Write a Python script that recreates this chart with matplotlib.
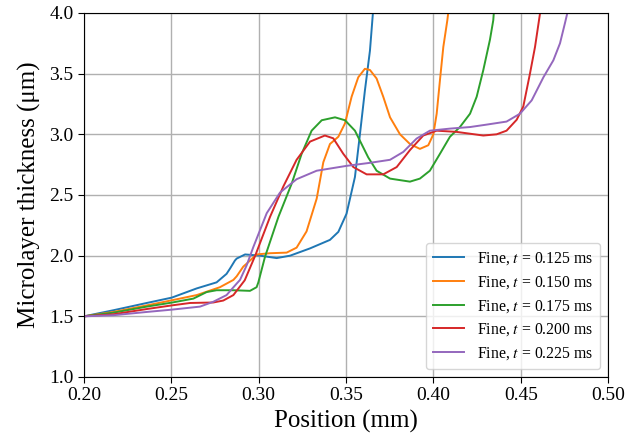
import matplotlib
matplotlib.use("Agg")
import matplotlib.pyplot as plt

plt.rcParams['font.family'] = ['Liberation Serif', 'DejaVu Serif']
plt.rcParams['mathtext.fontset'] = 'stix'

# t = 0.125 ms
x_125 = [0.200, 0.2168, 0.2359, 0.2502, 0.2645, 0.2759, 0.2816, 0.2836, 0.2864, 0.2874,
         0.2922, 0.3008, 0.3103, 0.318, 0.3294, 0.3408, 0.3456, 0.3503, 0.3551, 0.358,
         0.3608, 0.3637, 0.3654, 0.366]
y_125 = [1.50, 1.55, 1.61, 1.654, 1.73, 1.78, 1.85, 1.894, 1.96, 1.976,
         2.01, 2.00, 1.98, 2.00, 2.06, 2.13, 2.196, 2.346, 2.648, 3.005,
         3.36, 3.69, 4.00, 4.10]

# t = 0.150 ms
x_150 = [0.200, 0.2168, 0.2359, 0.2502, 0.2645, 0.2778, 0.2855, 0.2874, 0.2912, 0.2931,
         0.2988, 0.3065, 0.316, 0.3217, 0.3274, 0.3332, 0.337, 0.3408, 0.3456, 0.3494,
         0.3532, 0.357, 0.3608, 0.3637, 0.3675, 0.3713, 0.3752, 0.3809, 0.3866, 0.3923,
         0.3971, 0.400, 0.4019, 0.4038, 0.4057, 0.408, 0.4085, 0.409]
y_150 = [1.50, 1.536, 1.59, 1.632, 1.675, 1.74, 1.80, 1.83, 1.91, 1.934,
         2.01, 2.02, 2.025, 2.066, 2.20, 2.47, 2.77, 2.92, 2.98, 3.09,
         3.31, 3.47, 3.54, 3.53, 3.46, 3.31, 3.14, 3.00, 2.92, 2.88,
         2.91, 3.00, 3.17, 3.45, 3.72, 3.94, 4.00, 4.10]

# t = 0.175 ms
x_175 = [0.200, 0.2168, 0.2359, 0.2502, 0.2626, 0.2702, 0.2759, 0.2855, 0.295, 0.2988,
         0.2998, 0.3036, 0.3113, 0.3189, 0.3246, 0.3303, 0.3361, 0.3437, 0.3494, 0.3551,
         0.3589, 0.3627, 0.3675, 0.3752, 0.3866, 0.3923, 0.398, 0.4038, 0.4095, 0.4152,
         0.421, 0.4248, 0.4286, 0.4324, 0.4343, 0.4346, 0.435]
y_175 = [1.50, 1.53, 1.58, 1.613, 1.646, 1.70, 1.715, 1.715, 1.71, 1.74,
         1.78, 1.99, 2.32, 2.594, 2.84, 3.03, 3.116, 3.14, 3.116, 3.03,
         2.92, 2.81, 2.70, 2.635, 2.61, 2.635, 2.70, 2.84, 2.98, 3.06,
         3.17, 3.31, 3.53, 3.78, 3.94, 4.00, 4.10]

# t = 0.200 ms
x_200 = [0.200, 0.2168, 0.2359, 0.2502, 0.2607, 0.274, 0.2797, 0.2855, 0.292, 0.298,
         0.3065, 0.3141, 0.3217, 0.3294, 0.3379, 0.3427, 0.3484, 0.3542, 0.3618, 0.3713,
         0.379, 0.3866, 0.3942, 0.4019, 0.4133, 0.4286, 0.4362, 0.4419, 0.4477, 0.4515,
         0.4553, 0.4582, 0.4611, 0.4615]
y_200 = [1.50, 1.517, 1.56, 1.59, 1.61, 1.614, 1.63, 1.675, 1.797, 2.00,
         2.32, 2.57, 2.79, 2.94, 2.99, 2.967, 2.84, 2.73, 2.67, 2.67,
         2.73, 2.87, 2.99, 3.03, 3.02, 2.99, 3.00, 3.03, 3.12, 3.23,
         3.50, 3.72, 4.00, 4.10]

# t = 0.225 ms
x_225 = [0.200, 0.2168, 0.2359, 0.2502, 0.2664, 0.274, 0.2816, 0.2874, 0.2893, 0.2931,
         0.2969, 0.3046, 0.3122, 0.3217, 0.3332, 0.3503, 0.3637, 0.3752, 0.3828, 0.3904,
         0.398, 0.4095, 0.421, 0.4305, 0.4419, 0.4496, 0.4563, 0.463, 0.4687, 0.4725,
         0.4754, 0.4767, 0.4772]
y_225 = [1.50, 1.509, 1.536, 1.555, 1.58, 1.62, 1.675, 1.77, 1.80, 1.92,
         2.07, 2.35, 2.52, 2.63, 2.70, 2.74, 2.765, 2.79, 2.855, 2.965,
         3.03, 3.047, 3.06, 3.08, 3.105, 3.17, 3.28, 3.47, 3.61, 3.75,
         3.92, 4.00, 4.10]

series = [(x_125, y_125, '0.125'), (x_150, y_150, '0.150'), (x_175, y_175, '0.175'),
          (x_200, y_200, '0.200'), (x_225, y_225, '0.225')]
colors = ['#1f77b4', '#ff7f0e', '#2ca02c', '#d62728', '#9467bd']

fig = plt.figure(figsize=(6.28, 4.43), dpi=100)
ax = fig.add_axes([0.1338, 0.149, 0.8344, 0.8217])

for (xs, ys, t), c in zip(series, colors):
    ax.plot(xs, ys, color=c, linewidth=1.4, label=r'Fine, $t$ = ' + t + ' ms')

ax.set_xlim(0.20, 0.50)
ax.set_ylim(1.0, 4.0)
ax.set_xticks([0.20, 0.25, 0.30, 0.35, 0.40, 0.45, 0.50])
ax.set_yticks([1.0, 1.5, 2.0, 2.5, 3.0, 3.5, 4.0])
ax.grid(True, color='#b0b0b0', linewidth=1.0)
ax.tick_params(labelsize=14, direction='out', length=4)
ax.set_xlabel('Position (mm)', fontsize=18, labelpad=4)
ax.set_ylabel('Microlayer thickness (μm)', fontsize=18, labelpad=6)
ax.legend(loc='lower right', fontsize=11.3, handlelength=2.0, borderpad=0.45,
          labelspacing=0.45, framealpha=0.8)

fig.savefig('out.png', dpi=100)
